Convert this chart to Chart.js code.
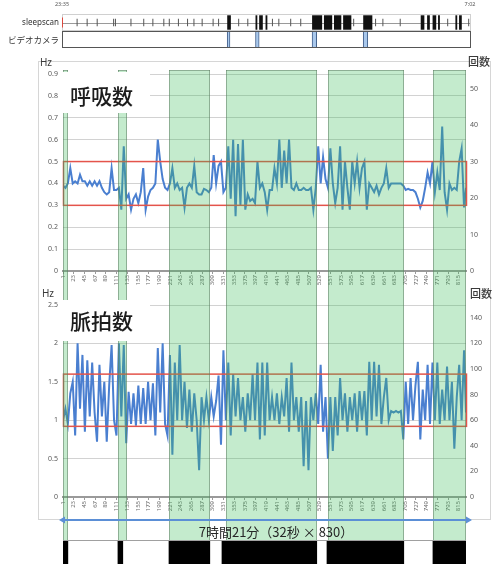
<!DOCTYPE html>
<html>
<head>
<meta charset="utf-8">
<script src="https://cdn.jsdelivr.net/npm/chart.js@4.4.1/dist/chart.umd.min.js"></script>
<style>
  html, body { margin: 0; padding: 0; background: #fff; }
  #page { position: relative; width: 494px; height: 564px; overflow: hidden; background: #fff; }
  #panel { position: absolute; left: 38px; top: 61px; width: 451px; height: 457px; border: 1px solid #d6d6d6; }
  canvas { position: absolute; left: 0; }
</style>
</head>
<body>
<div id="page">
  <div id="panel"></div>
  <canvas id="strip" width="494" height="56" style="top:0px"></canvas>
  <canvas id="resp" width="494" height="232" style="top:56px"></canvas>
  <canvas id="pulse" width="494" height="228" style="top:288px"></canvas>
  <canvas id="sleep" width="494" height="48" style="top:516px"></canvas>
</div>
<script>
// ---- recording: 830 epochs of 32 s, values listed every 5th epoch ----
const SAMPLE_COUNT = 830;
const SAMPLE_STEP = 5;
const xTickLabels = [1, 23, 45, 67, 89, 111, 133, 155, 177, 199, 221, 243, 265, 287, 309, 331, 353, 375, 397,
  419, 441, 463, 485, 507, 529, 551, 573, 595, 617, 639, 661, 683, 705, 727, 749, 771, 793, 815];

// respiration rate (Hz)
const respHz = [
  0.39, 0.38, 0.40, 0.47, 0.40, 0.41, 0.40, 0.44, 0.41, 0.41,
  0.39, 0.41, 0.39, 0.41, 0.39, 0.41, 0.38, 0.36, 0.35, 0.36,
  0.47, 0.37, 0.37, 0.38, 0.28, 0.57, 0.33, 0.35, 0.28, 0.33,
  0.35, 0.31, 0.36, 0.47, 0.28, 0.34, 0.37, 0.38, 0.40, 0.60,
  0.50, 0.42, 0.38, 0.37, 0.40, 0.47, 0.38, 0.40, 0.37, 0.38,
  0.29, 0.38, 0.40, 0.38, 0.48, 0.36, 0.35, 0.35, 0.375, 0.37,
  0.36, 0.38, 0.53, 0.40, 0.48, 0.50, 0.36, 0.38, 0.57, 0.33,
  0.60, 0.25, 0.58, 0.30, 0.60, 0.28, 0.35, 0.32, 0.33, 0.31,
  0.50, 0.38, 0.40, 0.36, 0.28, 0.37, 0.37, 0.47, 0.40, 0.60,
  0.38, 0.55, 0.40, 0.60, 0.38, 0.37, 0.40, 0.37, 0.37, 0.38,
  0.37, 0.37, 0.38, 0.28, 0.38, 0.57, 0.40, 0.52, 0.42, 0.38,
  0.56, 0.40, 0.31, 0.38, 0.57, 0.28, 0.50, 0.38, 0.28, 0.50,
  0.40, 0.50, 0.38, 0.47, 0.50, 0.28, 0.40, 0.38, 0.36, 0.39,
  0.35, 0.38, 0.40, 0.47, 0.38, 0.40, 0.40, 0.40, 0.40, 0.40,
  0.39, 0.37, 0.375, 0.37, 0.37, 0.36, 0.33, 0.29, 0.32, 0.38,
  0.45, 0.40, 0.50, 0.36, 0.45, 0.37, 0.66, 0.36, 0.28, 0.40,
  0.37, 0.38, 0.37, 0.50, 0.56, 0.29, 0.38
];

// pulse rate (Hz)
const pulseHz = [
  1.00, 1.15, 0.95, 1.35, 1.50, 0.80, 2.00, 1.15, 1.85, 0.85,
  1.78, 1.05, 1.75, 1.10, 0.72, 1.72, 1.05, 1.50, 0.72, 1.45,
  1.98, 1.00, 0.80, 2.00, 1.05, 1.98, 0.70, 1.37, 0.95, 1.35,
  0.93, 1.45, 0.95, 1.42, 0.95, 1.50, 1.00, 1.48, 0.80, 1.94,
  1.10, 2.00, 0.95, 0.80, 1.85, 0.55, 1.75, 1.00, 1.98, 1.00,
  1.50, 0.90, 1.40, 0.85, 1.35, 1.00, 0.35, 1.30, 1.00, 1.30,
  1.00, 1.30, 1.05, 1.25, 1.58, 0.68, 1.91, 1.00, 1.75, 0.80,
  1.60, 1.05, 1.55, 1.00, 1.30, 0.85, 1.35, 1.00, 1.60, 1.00,
  1.75, 0.75, 1.75, 0.80, 1.75, 1.00, 1.30, 1.00, 1.35, 0.95,
  1.30, 1.05, 1.55, 0.85, 1.75, 1.00, 1.30, 0.85, 1.30, 0.40,
  1.25, 0.35, 1.30, 1.00, 1.35, 0.95, 1.72, 0.85, 1.30, 0.50,
  1.30, 0.60, 1.30, 0.80, 1.55, 1.00, 1.35, 0.85, 1.30, 1.00,
  1.35, 0.85, 1.38, 1.00, 1.38, 0.80, 1.76, 1.00, 1.76, 1.05,
  1.72, 0.95, 1.30, 1.55, 1.00, 1.12, 1.10, 1.12, 1.10, 1.12,
  0.75, 1.50, 0.95, 1.55, 1.00, 1.45, 1.76, 0.75, 1.40, 1.00,
  1.72, 0.95, 1.75, 1.00, 1.75, 0.95, 1.40, 1.00, 1.70, 1.00,
  1.50, 0.63, 1.30, 1.72, 1.00, 1.91, 1.10
];

// normal ranges (Hz)
const respLimits = [0.3, 0.5];
const pulseLimits = [0.92, 1.6];

// axis ticks
const respTicksHz = [0, 0.1, 0.2, 0.3, 0.4, 0.5, 0.6, 0.7, 0.8, 0.9];
const respTicksCount = [0, 10, 20, 30, 40, 50];
const pulseTicksHz = [0, 0.5, 1, 1.5, 2, 2.5];
const pulseTicksCount = [0, 20, 40, 60, 80, 100, 120, 140];

// epoch ranges (first, last)
const greenRanges = [[1, 11], [114, 133], [219, 303], [336, 523], [546, 702], [762, 830]];
const sleepRanges = [[1, 11], [114, 124], [219, 303], [328, 523], [544, 702], [762, 830]];

// top strip, minutes after 23:35
const rowLabels = ['sleepscan', 'ビデオカメラ'];
const stripMinutes = [0, 447];
const timeLabels = ['23:35', '7:02'];
const videoClips = [[181, 184], [212, 216], [274, 279], [330, 335]];
const movementBursts = [[181, 185], [212, 214], [216, 220], [223, 225], [274, 285], [287, 296], [298, 306],
  [308, 317], [330, 340], [393, 397], [400, 403], [406, 410], [412, 414], [431, 433], [435, 438]];
const movementTicks = [16, 27, 38, 56, 58, 75, 89, 99, 111, 117, 127, 137, 144, 153, 165, 171, 193, 203,
  230, 237, 250, 261, 319, 343, 351, 370, 422, 445];

const durationLabel = '7時間21分（32秒 × 830）';

// ---- drawing ----
Chart.defaults.font.family = '"Noto Sans", "Noto Sans CJK JP", sans-serif';
const JP = '"Noto Sans CJK JP", sans-serif';
const BAND_FILL = 'rgba(60,190,90,0.30)';
const BAND_EDGE = 'rgba(95,125,100,0.55)';

const toPoints = arr => arr.map((v, i) => ({ x: Math.min(1 + i * SAMPLE_STEP, SAMPLE_COUNT), y: v }));

function drawBands(chart, top, bottom, withTopEdge) {
  const { ctx, scales: { x } } = chart;
  ctx.save();
  greenRanges.forEach(([a, b]) => {
    const x0 = Math.round(x.getPixelForValue(a)), x1 = Math.round(x.getPixelForValue(b));
    ctx.fillStyle = BAND_FILL;
    ctx.fillRect(x0, top, x1 - x0, bottom - top);
    ctx.strokeStyle = BAND_EDGE;
    ctx.lineWidth = 1;
    ctx.beginPath();
    ctx.moveTo(x0 + 0.5, top); ctx.lineTo(x0 + 0.5, bottom);
    ctx.moveTo(x1 - 0.5, top); ctx.lineTo(x1 - 0.5, bottom);
    if (withTopEdge) { ctx.moveTo(x0, top + 0.5); ctx.lineTo(x1, top + 0.5); }
    ctx.stroke();
  });
  ctx.restore();
}

function panelDecor(cfg) {
  return {
    id: 'panelDecor',
    afterDatasetsDraw(chart) {
      const { ctx, chartArea: ca, scales: { y } } = chart;
      // normal range frame
      const yHi = y.getPixelForValue(cfg.limits[1]), yLo = y.getPixelForValue(cfg.limits[0]);
      ctx.save();
      ctx.strokeStyle = '#e4544b';
      ctx.lineWidth = 1.5;
      ctx.strokeRect(ca.left + 0.5, yHi, ca.right - ca.left, yLo - yHi);
      ctx.restore();
      // sleep stage bands
      const top = cfg.bandFromPlotTop ? ca.top - 4 : 0;
      drawBands(chart, top, chart.height, cfg.bandFromPlotTop);
      // title
      ctx.save();
      ctx.fillStyle = '#fff';
      ctx.fillRect(cfg.titleBox[0], cfg.titleBox[1], cfg.titleBox[2], cfg.titleBox[3]);
      ctx.fillStyle = '#1c1c1c';
      ctx.font = '500 21px ' + JP;
      ctx.textBaseline = 'middle';
      ctx.textAlign = 'left';
      ctx.fillText(cfg.title, 70, cfg.titleY);
      // unit captions
      ctx.fillStyle = '#3a3a3a';
      ctx.textAlign = 'center';
      ctx.font = '10px "Noto Sans", sans-serif';
      ctx.fillText('Hz', cfg.hzPos[0], cfg.hzPos[1]);
      ctx.font = '500 11px ' + JP;
      ctx.fillText('回数', cfg.countPos[0], cfg.countPos[1]);
      ctx.restore();
    }
  };
}

function lineChart(canvasId, values, leftTicks, leftMax, rightTicks, rightMax, padTop, xAxisHeight, decor) {
  return new Chart(document.getElementById(canvasId), {
    type: 'line',
    data: {
      datasets: [{
        data: toPoints(values),
        yAxisID: 'y',
        borderColor: '#4a7fd0',
        borderWidth: 2,
        pointRadius: 0,
        tension: 0,
        fill: false
      }]
    },
    options: {
      responsive: false,
      animation: false,
      devicePixelRatio: 1,
      layout: { padding: { top: padTop, left: 0, right: 0, bottom: 0 } },
      plugins: { legend: { display: false }, tooltip: { enabled: false } },
      scales: {
        x: {
          type: 'linear', min: 1, max: SAMPLE_COUNT,
          afterBuildTicks: s => { s.ticks = xTickLabels.map(v => ({ value: v })); },
          ticks: {
            autoSkip: false, minRotation: 90, maxRotation: 90, padding: 1,
            color: '#6b6b6b', font: { size: 6 }, callback: v => String(v)
          },
          grid: { drawOnChartArea: false, drawTicks: true, tickLength: 3, color: '#9a9a9a' },
          border: { color: '#9a9a9a', width: 2 },
          afterFit: s => { s.height = xAxisHeight; }
        },
        y: {
          position: 'left', min: 0, max: leftMax,
          afterBuildTicks: s => { s.ticks = leftTicks.map(v => ({ value: v })); },
          ticks: { color: '#595959', font: { size: 7 }, padding: 5, callback: v => String(v) },
          grid: { color: '#d2d2d2', drawTicks: false, lineWidth: 1 },
          border: { display: false },
          afterFit: s => { s.width = 63; }
        },
        y2: {
          position: 'right', min: 0, max: rightMax,
          afterBuildTicks: s => { s.ticks = rightTicks.map(v => ({ value: v })); },
          ticks: { color: '#595959', font: { size: 7 }, padding: 4, callback: v => String(v) },
          grid: { drawOnChartArea: false, drawTicks: false },
          border: { display: false },
          afterFit: s => { s.width = 28; }
        }
      }
    },
    plugins: [panelDecor(decor)]
  });
}

// respiration panel
lineChart('resp', respHz, respTicksHz, 0.9, respTicksCount, 54, 18, 17, {
  limits: respLimits, bandFromPlotTop: true,
  titleBox: [60, 16, 90, 41], title: '呼吸数', titleY: 40,
  hzPos: [46, 7], countPos: [479, 6]
});

// pulse panel
lineChart('pulse', pulseHz, pulseTicksHz, 2.5, pulseTicksCount, 150, 17, 19, {
  limits: pulseLimits, bandFromPlotTop: false,
  titleBox: [60, 12, 90, 41], title: '脈拍数', titleY: 33,
  hzPos: [48, 6], countPos: [481, 6]
});

// sleepscan / camera strip
new Chart(document.getElementById('strip'), {
  type: 'bar',
  data: {
    labels: rowLabels,
    datasets: [
      { data: movementTicks.map(t => ({ x: [t, t + 1.1], y: rowLabels[0] })), backgroundColor: '#555',
        barPercentage: 0.45, categoryPercentage: 1, grouped: false },
      { data: movementBursts.map(([a, b]) => ({ x: [a, b], y: rowLabels[0] })), backgroundColor: '#111',
        barPercentage: 0.85, categoryPercentage: 1, grouped: false },
      { data: [{ x: [0, 1], y: rowLabels[0] }], backgroundColor: '#e03c31',
        barPercentage: 0.6, categoryPercentage: 1, grouped: false },
      { data: videoClips.map(([a, b]) => ({ x: [a, b], y: rowLabels[1] })), backgroundColor: '#a9c8ec',
        borderColor: '#44618c', borderWidth: 1, borderSkipped: false,
        barPercentage: 1, categoryPercentage: 1, grouped: false }
    ]
  },
  options: {
    indexAxis: 'y',
    responsive: false,
    animation: false,
    devicePixelRatio: 1,
    layout: { padding: { top: 0, left: 0, right: 24, bottom: 8 } },
    plugins: { legend: { display: false }, tooltip: { enabled: false } },
    scales: {
      x: {
        type: 'linear', position: 'top', min: stripMinutes[0], max: stripMinutes[1],
        afterBuildTicks: s => { s.ticks = stripMinutes.map(v => ({ value: v })); },
        ticks: { callback: (v, i) => timeLabels[i], font: { size: 5.5 }, color: '#555', padding: 6, maxRotation: 0 },
        grid: { display: false, drawTicks: false }, border: { display: false },
        afterFit: s => { s.height = 14; }
      },
      y: {
        type: 'category',
        ticks: { color: '#333', padding: 3, font: c => ({ family: c.index === 0 ? '"Noto Sans", sans-serif' : JP, size: c.index === 0 ? 8 : 8.5 }) },
        grid: { display: false, drawTicks: false }, border: { display: false },
        afterFit: s => { s.width = 62; }
      }
    }
  },
  plugins: [{
    id: 'rows',
    beforeDatasetsDraw(chart) {
      const { ctx, chartArea: ca, scales: { y } } = chart;
      const yc = y.getPixelForValue(0);
      const h = (ca.bottom - ca.top) / 2;
      ctx.save();
      ctx.strokeStyle = '#d0d0d0';
      ctx.lineWidth = 1;
      ctx.strokeRect(ca.left + 0.5, Math.round(yc - h / 2) + 0.5, ca.right - ca.left, h - 1);
      ctx.strokeStyle = '#9a9a9a';
      ctx.beginPath();
      ctx.moveTo(ca.left, Math.round(yc) + 0.5);
      ctx.lineTo(ca.right, Math.round(yc) + 0.5);
      ctx.stroke();
      ctx.restore();
    },
    afterDatasetsDraw(chart) {
      const { ctx, chartArea: ca, scales: { y } } = chart;
      const yc = y.getPixelForValue(1);
      const h = (ca.bottom - ca.top) / 2;
      ctx.save();
      ctx.strokeStyle = '#555';
      ctx.lineWidth = 1;
      ctx.strokeRect(ca.left + 0.5, Math.round(yc - h / 2) + 0.5, ca.right - ca.left, h - 1);
      ctx.restore();
    }
  }]
});

// sleep blocks + total duration arrow
new Chart(document.getElementById('sleep'), {
  type: 'bar',
  data: {
    labels: ['sleep'],
    datasets: [{
      data: sleepRanges.map(([a, b]) => ({ x: [a, b], y: 'sleep' })),
      backgroundColor: '#000', barPercentage: 1, categoryPercentage: 1, grouped: false
    }]
  },
  options: {
    indexAxis: 'y',
    responsive: false,
    animation: false,
    devicePixelRatio: 1,
    layout: { padding: { top: 25, left: 63, right: 28, bottom: 0 } },
    plugins: { legend: { display: false }, tooltip: { enabled: false } },
    scales: {
      x: { type: 'linear', min: 1, max: SAMPLE_COUNT, display: false },
      y: { type: 'category', display: false }
    }
  },
  plugins: [{
    id: 'duration',
    beforeDatasetsDraw(chart) {
      const { ctx, chartArea: ca } = chart;
      drawBands(chart, 0, ca.top, false);
      ctx.save();
      ctx.strokeStyle = '#a0a0a0';
      ctx.lineWidth = 1;
      ctx.beginPath();
      ctx.moveTo(ca.left, ca.top - 0.5);
      ctx.lineTo(ca.right, ca.top - 0.5);
      ctx.stroke();
      ctx.restore();
    },
    afterDatasetsDraw(chart) {
      const { ctx, scales: { x } } = chart;
      const xl = x.getPixelForValue(1) - 4, xr = x.getPixelForValue(SAMPLE_COUNT) + 6, ya = 4;
      ctx.save();
      ctx.strokeStyle = '#5b8fd6';
      ctx.fillStyle = '#5b8fd6';
      ctx.lineWidth = 2;
      ctx.beginPath();
      ctx.moveTo(xl + 5, ya); ctx.lineTo(xr - 5, ya);
      ctx.stroke();
      ctx.beginPath();
      ctx.moveTo(xl, ya); ctx.lineTo(xl + 6, ya - 3.5); ctx.lineTo(xl + 6, ya + 3.5); ctx.closePath();
      ctx.moveTo(xr, ya); ctx.lineTo(xr - 6, ya - 3.5); ctx.lineTo(xr - 6, ya + 3.5); ctx.closePath();
      ctx.fill();
      ctx.fillStyle = '#262626';
      ctx.font = '13px ' + JP;
      ctx.textAlign = 'center';
      ctx.textBaseline = 'middle';
      ctx.fillText(durationLabel, 276, 16);
      ctx.restore();
    }
  }]
});
</script>
</body>
</html>
